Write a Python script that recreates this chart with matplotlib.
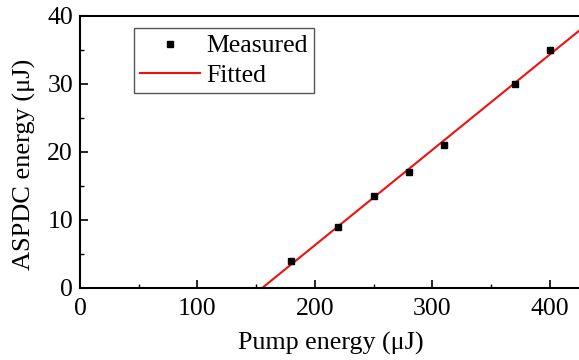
import numpy as np
import matplotlib
matplotlib.use("Agg")
import matplotlib.pyplot as plt

plt.rcParams['font.family'] = ['Liberation Serif', 'DejaVu Serif']

pump = [180, 220, 250, 280, 310, 370, 400]
aspdc = [4.0, 9.0, 13.5, 17.0, 21.0, 30.0, 35.0]
x_ticks = [0, 100, 200, 300, 400]
y_ticks = [0, 10, 20, 30, 40]

slope, intercept = np.polyfit(pump, aspdc, 1)
xf = np.array([140, 440])
yf = slope * xf + intercept

fig = plt.figure(figsize=(5.79, 3.60), dpi=100)
ax = fig.add_axes([80/579, 0.2, (585-80)/579, 0.756])

ax.plot(xf, yf, color='#f01010', lw=1.5, label='Fitted', zorder=2)
ax.plot(pump, aspdc, 's', color='black', ms=4.8, label='Measured', zorder=3)

ax.set_xlim(0, 430)
ax.set_ylim(0, 40)
ax.set_xticks(x_ticks)
ax.set_yticks(y_ticks)
ax.set_xticks([50, 150, 250, 350], minor=True)
ax.set_yticks([5, 15, 25, 35], minor=True)
ax.tick_params(which='major', direction='in', length=6, width=1.2, labelsize=18.5)
ax.tick_params(axis='x', which='major', pad=7)
ax.tick_params(axis='y', which='major', pad=5)
ax.tick_params(which='minor', direction='in', length=3, width=1.0)
for s in ax.spines.values():
    s.set_linewidth(1.5)

ax.set_xlabel('Pump energy (μJ)', fontsize=18.7, va='center')
ax.xaxis.set_label_coords((331-80)/505, (288-343)/272)
ax.set_ylabel('ASPDC energy (μJ)', fontsize=19, va='center')
ax.yaxis.set_label_coords((24-80)/505, (288-164)/272)

h, l = ax.get_legend_handles_labels()
leg = ax.legend([h[1], h[0]], [l[1], l[0]], loc='upper left',
                bbox_to_anchor=(0.107, 0.955), fontsize=18.5, frameon=True,
                fancybox=False, edgecolor='#555555', framealpha=1,
                handlelength=2.3, handletextpad=0.25, borderpad=0.25,
                labelspacing=0.25, borderaxespad=0, markerscale=0.8)
leg.get_frame().set_linewidth(1.0)

fig.savefig('out.png', dpi=100)
